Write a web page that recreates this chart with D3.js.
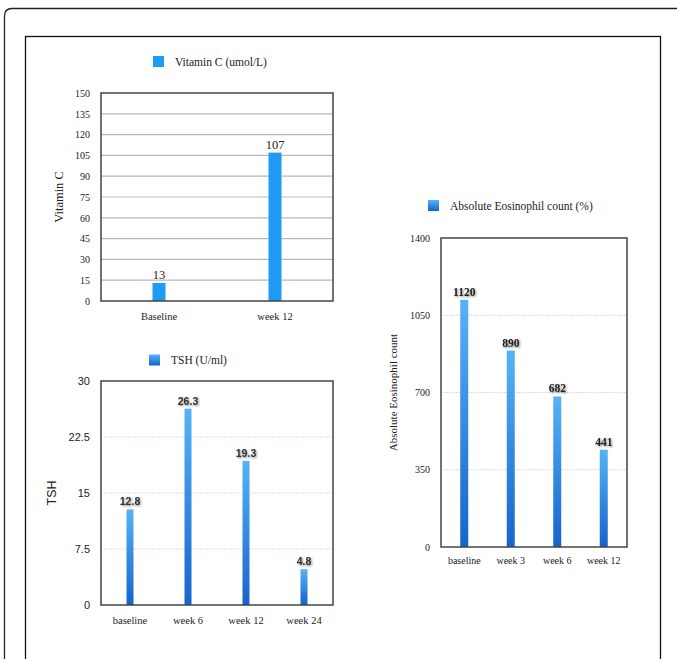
<!DOCTYPE html>
<html><head><meta charset="utf-8">
<script src="https://cdn.jsdelivr.net/npm/d3@7"></script>
<style>body{margin:0;background:#fff}svg{display:block}</style>
</head><body>
<svg id="c" width="677" height="659"></svg>
<script>
// Data
const vitCats = ["Baseline", "week 12"];
const vitVals = [13, 107];
const vitTicks = [0, 15, 30, 45, 60, 75, 90, 105, 120, 135, 150];

const tshCats = ["baseline", "week 6", "week 12", "week 24"];
const tshVals = [12.8, 26.3, 19.3, 4.8];
const tshTicks = [0, 7.5, 15, 22.5, 30];

const eosCats = ["baseline", "week 3", "week 6", "week 12"];
const eosVals = [1120, 890, 682, 441];
const eosTicks = [0, 350, 700, 1050, 1400];

const svg = d3.select("#c");
const SERIF = "'Liberation Serif','Times New Roman',serif";
const SANS = "'Liberation Sans',Arial,sans-serif";

const defs = svg.append("defs");
const grad = defs.append("linearGradient").attr("id","bg").attr("x1",0).attr("y1",0).attr("x2",0).attr("y2",1);
grad.append("stop").attr("offset","0%").attr("stop-color","#55b3f6");
grad.append("stop").attr("offset","100%").attr("stop-color","#1763cc");
const sh = defs.append("filter").attr("id","shadow").attr("x","-20%").attr("y","-20%").attr("width","140%").attr("height","160%");
sh.append("feGaussianBlur").attr("in","SourceAlpha").attr("stdDeviation",0.8).attr("result","b");
sh.append("feOffset").attr("in","b").attr("dx",0.5).attr("dy",1).attr("result","o");
sh.append("feComponentTransfer").attr("in","o").attr("result","o2").append("feFuncA").attr("type","linear").attr("slope",0.5);
const sm = sh.append("feMerge");
sm.append("feMergeNode").attr("in","o2");
sm.append("feMergeNode").attr("in","SourceGraphic");

// Frames
svg.append("path").attr("d","M4.5,700 L4.5,16 Q4.5,8.5 12,8.5 L700,8.5").attr("fill","none").attr("stroke","#222").attr("stroke-width",1.3);
svg.append("rect").attr("x",25.5).attr("y",36.5).attr("width",635).attr("height",700).attr("fill","none").attr("stroke","#111").attr("stroke-width",1.3);

function chart(o) {
  const g = svg.append("g");
  const x = d3.scaleBand().domain(o.cats).range([o.x0, o.x1]);
  const y = d3.scaleLinear().domain([0, o.ticks[o.ticks.length-1]]).range([o.y1, o.y0]);
  // grid
  g.selectAll(".gl").data(o.ticks.slice(1, -1)).enter().append("line")
    .attr("x1", o.x0).attr("x2", o.x1).attr("y1", d => y(d)).attr("y2", d => y(d))
    .attr("stroke", o.gridColor).attr("stroke-width", o.gridW).attr("stroke-dasharray", o.gridDash);
  // y axis labels
  const ya = d3.axisLeft(y).tickValues(o.ticks).tickSize(0).tickPadding(o.tickPad).tickFormat(d => String(d));
  const yg = g.append("g").attr("transform", `translate(${o.x0},0)`).call(ya);
  yg.select(".domain").remove();
  yg.selectAll("text").attr("font-family", o.tickFont).attr("font-size", o.tickSize).attr("fill", "#222");
  // x axis labels
  const xa = d3.axisBottom(x).tickSize(0).tickPadding(o.xPad);
  const xg = g.append("g").attr("transform", `translate(0,${o.y1})`).call(xa);
  xg.select(".domain").remove();
  xg.selectAll("text").attr("font-family", SERIF).attr("font-size", o.xSize).attr("fill", "#222");
  // bars
  g.selectAll(".bar").data(o.vals).enter().append("rect")
    .attr("x", (d, i) => x(o.cats[i]) + x.bandwidth()/2 - o.barW/2)
    .attr("y", d => y(d)).attr("width", o.barW).attr("height", d => y(0) - y(d))
    .attr("fill", o.fill);
  // value labels
  g.selectAll(".vl").data(o.vals).enter().append("text")
    .attr("x", (d, i) => x(o.cats[i]) + x.bandwidth()/2)
    .attr("y", d => y(d) - 4).attr("text-anchor", "middle")
    .attr("font-family", o.valFont).attr("font-size", o.valSize).attr("font-weight", o.valWeight)
    .attr("fill", o.valColor).attr("filter", o.valFilter || null)
    .text(d => String(d));
  // frame
  g.append("rect").attr("x", o.x0).attr("y", o.y0).attr("width", o.x1 - o.x0).attr("height", o.y1 - o.y0)
    .attr("fill", "none").attr("stroke", "#444").attr("stroke-width", 1.5);
  // y title
  g.append("text").attr("transform", `translate(${o.titleX},${(o.y0+o.y1)/2}) rotate(-90)`)
    .attr("text-anchor", "middle").attr("font-family", o.titleFont).attr("font-size", o.titleSize)
    .attr("font-weight", o.titleWeight || "normal").attr("fill", "#222").text(o.title);
  // legend
  g.append("rect").attr("x", o.lx).attr("y", o.ly - 5.5).attr("width", 11).attr("height", 11).attr("fill", o.fill);
  g.append("text").attr("x", o.lx + 22).attr("y", o.ly + 4).attr("font-family", SERIF).attr("font-size", o.legSize)
    .attr("fill", "#222").text(o.legend);
}

chart({cats: vitCats, vals: vitVals, ticks: vitTicks, x0: 101, x1: 333, y0: 93, y1: 301,
  gridColor: "#bdb6bd", gridW: 1.2, gridDash: null, tickFont: SERIF, tickSize: 10, tickPad: 11, xPad: 12, xSize: 10.5,
  barW: 13, fill: "#1e9cf4", valFont: SERIF, valSize: 12.5, valWeight: "normal", valColor: "#222",
  titleX: 63, title: "Vitamin C", titleFont: SERIF, titleSize: 12.5,
  lx: 153, ly: 61.5, legend: "Vitamin C (umol/L)", legSize: 11.5});

chart({cats: tshCats, vals: tshVals, ticks: tshTicks, x0: 101, x1: 333, y0: 381, y1: 605,
  gridColor: "#e3c9c9", gridW: 1, gridDash: "1.5,1.5", tickFont: SANS, tickSize: 11, tickPad: 11, xPad: 12, xSize: 10.5,
  barW: 7, fill: "url(#bg)", valFont: SANS, valSize: 10.5, valWeight: "bold", valColor: "#333", valFilter: "url(#shadow)",
  titleX: 56, title: "TSH", titleFont: SANS, titleSize: 12.5, titleWeight: "normal",
  lx: 149, ly: 360, legend: "TSH (U/ml)", legSize: 11.5});

chart({cats: eosCats, vals: eosVals, ticks: eosTicks, x0: 441, x1: 627, y0: 238, y1: 547,
  gridColor: "#d0d0d0", gridW: 1, gridDash: "1.5,1.5", tickFont: SERIF, tickSize: 10, tickPad: 11, xPad: 10, xSize: 10,
  barW: 8, fill: "url(#bg)", valFont: SERIF, valSize: 11.5, valWeight: "bold", valColor: "#222", valFilter: "url(#shadow)",
  titleX: 397, title: "Absolute Eosinophil count", titleFont: SERIF, titleSize: 11,
  lx: 428, ly: 205.5, legend: "Absolute Eosinophil count (%)", legSize: 11.5});
</script>
</body></html>
